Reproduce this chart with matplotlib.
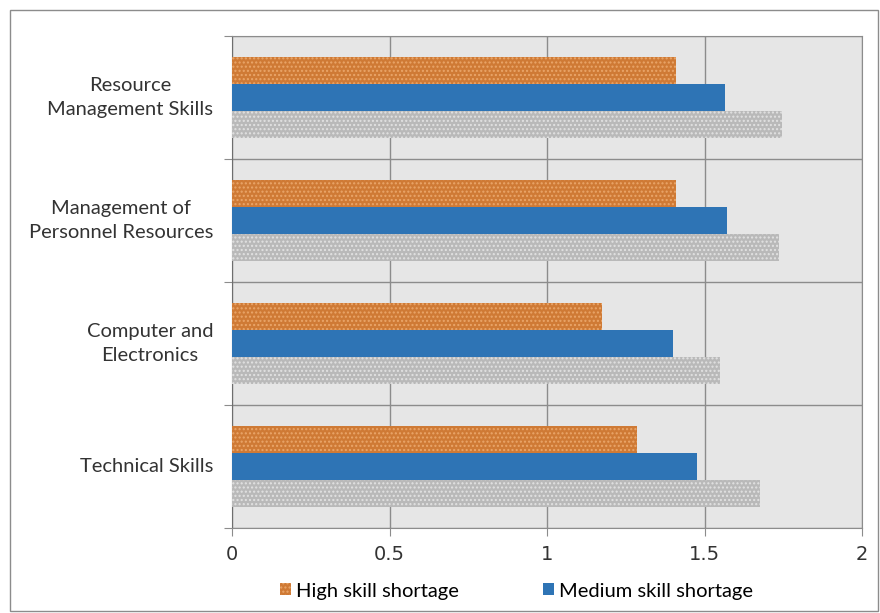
import matplotlib.pyplot as plt
import matplotlib.patches as mpatches
import numpy as np

categories = ['Technical Skills', 'Computer and\nElectronics',
              'Management of\nPersonnel Resources', 'Resource\nManagement Skills']
high = [1.285, 1.175, 1.41, 1.41]
medium = [1.475, 1.40, 1.57, 1.565]
low = [1.675, 1.55, 1.735, 1.745]
ticks = [0, 0.5, 1, 1.5, 2]
tick_labels = ['0', '0.5', '1', '1.5', '2']

plt.rcParams['hatch.linewidth'] = 1.0

fig = plt.figure(figsize=(8.8, 6.13), dpi=100)
ax = fig.add_axes([232 / 880, 1 - 528 / 613, 630 / 880, 492 / 613])
ax.set_facecolor('#e6e6e6')

y = np.arange(len(categories))
h = 0.22
ax.barh(y + h, high, height=h, color='#cf7a35', edgecolor='#eaa66a',
        hatch='....', linewidth=0, label='High skill shortage', zorder=3)
ax.barh(y, medium, height=h, color='#2e74b5', linewidth=0,
        label='Medium skill shortage', zorder=3)
ax.barh(y - h, low, height=h, color='#b9b9b9', edgecolor='#e2e2e2',
        hatch='....', linewidth=0, zorder=3)

ax.set_xlim(0, 2)
ax.set_ylim(-0.5, len(categories) - 0.5)

# gridlines: vertical at x ticks, horizontal at category boundaries
ax.set_xticks(ticks)
ax.set_xticklabels(tick_labels)
ax.set_yticks(np.arange(len(categories) + 1) - 0.5)
ax.set_yticklabels([])
ax.grid(True, color='#8c8c8c', linewidth=1.0, zorder=1)
ax.tick_params(axis='x', length=6, color='#8c8c8c', labelsize=14,
               labelcolor='#333333', pad=6)
ax.tick_params(axis='y', length=6, color='#8c8c8c')
for lab in ax.get_xticklabels():
    lab.set_fontfamily(['Liberation Sans Narrow', 'DejaVu Sans'])
for side in ['top', 'right', 'bottom']:
    ax.spines[side].set_color('#8c8c8c')
ax.spines['left'].set_color('#6e6e6e')

for yi, name in zip(y, categories):
    ax.text(-0.03, yi, name, ha='right', va='center', multialignment='center',
            fontsize=14.5, color='#333333', family=['Lato', 'DejaVu Sans'],
            linespacing=1.45, transform=ax.get_yaxis_transform())

handles, labels = ax.get_legend_handles_labels()
fig.legend(handles, labels, loc='center', bbox_to_anchor=(0.587, 1 - 591 / 613),
           ncol=2, frameon=False, handlelength=0.55, handleheight=0.55,
           handletextpad=0.25, columnspacing=4.2,
           prop={'family': ['Lato', 'DejaVu Sans'], 'size': 14.5})

fig.patches.append(mpatches.Rectangle((10 / 880, 2 / 613), 868 / 880, 601 / 613,
                                      transform=fig.transFigure, fill=False,
                                      edgecolor='#8c8c8c', linewidth=1.0))

fig.savefig('out.png', dpi=100)
